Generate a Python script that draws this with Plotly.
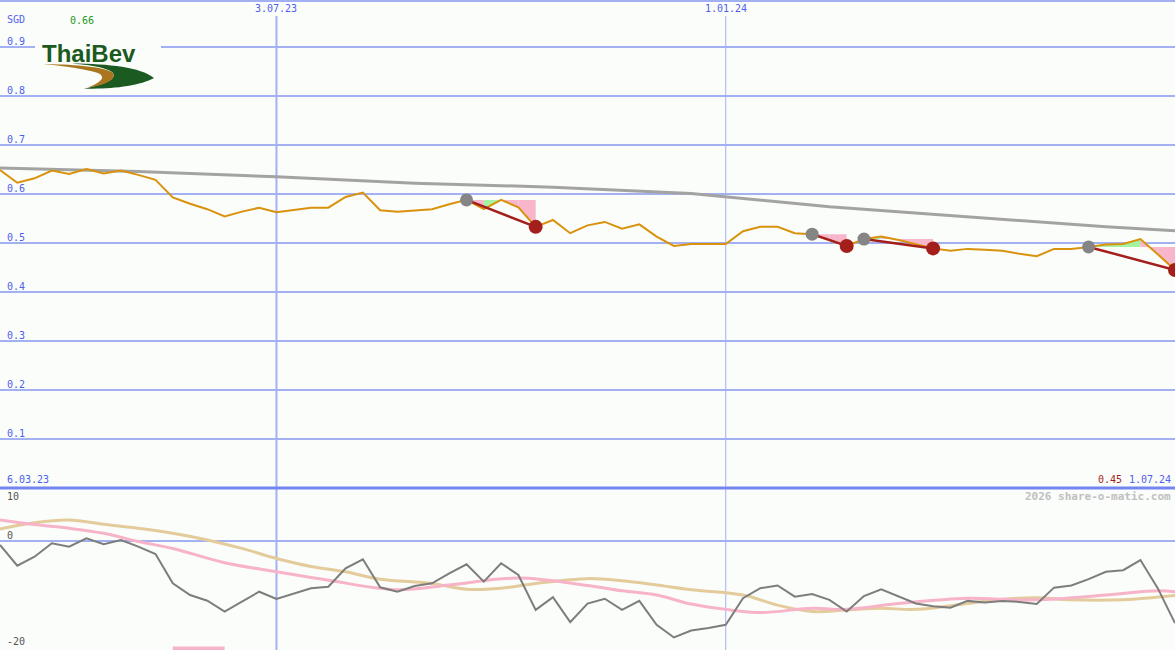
import pandas as pd
import plotly.graph_objects as go

# ---------------- data ----------------
start_date = "2023-03-13"
n_weeks = 69
dates = pd.date_range(start_date, periods=n_weeks, freq="7D")

price = [0.649, 0.623, 0.632, 0.648, 0.641, 0.651, 0.642, 0.648, 0.639, 0.629,
         0.593, 0.580, 0.569, 0.554, 0.564, 0.572, 0.563, 0.567, 0.572, 0.572,
         0.594, 0.603, 0.567, 0.564, 0.567, 0.569, 0.579, 0.588, 0.569, 0.588,
         0.573, 0.533, 0.547, 0.520, 0.536, 0.543, 0.529, 0.538, 0.513, 0.494,
         0.498, 0.498, 0.498, 0.524, 0.533, 0.533, 0.520, 0.518, 0.506, 0.494,
         0.508, 0.513, 0.506, 0.498, 0.489, 0.484, 0.488, 0.486, 0.484, 0.478,
         0.473, 0.488, 0.488, 0.492, 0.497, 0.498, 0.508, 0.477, 0.445]

ma_weeks = [0, 8, 16, 24, 32, 40, 48, 56, 64, 68]
ma_vals = [0.653, 0.646, 0.635, 0.622, 0.614, 0.601, 0.574, 0.553, 0.533, 0.525]

trade_entry = [27, 47, 50, 63]
trade_exit = [31, 49, 54, 68]

momentum = [-0.75, -4.65, -2.96, -0.43, -1.07, 0.51, -0.62, 0.19, -1.07, -2.45,
            -7.99, -10.2, -11.26, -13.34, -11.45, -9.57, -10.94, -9.87, -8.92, -8.62,
            -5.15, -3.45, -8.74, -9.57, -8.49, -7.99, -6.1, -4.4, -7.67, -4.2,
            -6.42, -13.0, -10.6, -15.3, -11.8, -10.9, -13.0, -11.3, -15.8, -18.2,
            -16.9, -16.4, -15.8, -10.8, -8.9, -8.4, -10.5, -10.0, -11.1, -13.3,
            -10.4, -9.1, -10.5, -11.8, -12.3, -12.6, -11.3, -11.6, -11.3, -11.5,
            -11.9, -8.8, -8.4, -7.2, -5.8, -5.5, -3.6, -8.9, -15.5]

pink_weeks = [0, 2, 4, 6, 8, 10, 13, 16, 19, 23, 26, 30, 34, 36, 38, 40, 42, 44,
              47, 49, 52, 56, 58, 60, 64, 67, 68]
pink_vals = [3.96, 3.1, 2.4, 1.45, -0.1, -1.4, -4.1, -5.8, -7.4, -9.2, -8.3, -7.0,
             -8.4, -9.4, -10.2, -11.9, -12.9, -13.5, -12.7, -12.9, -11.8, -10.8,
             -11.0, -11.1, -10.2, -9.4, -9.6]

tan_weeks = [0, 2, 4, 6, 8, 10, 12, 14, 16, 18, 20, 22, 25, 27, 29, 31, 34, 36, 38,
             40, 43, 45, 47, 49, 51, 53, 56, 58, 60, 62, 65, 68]
tan_vals = [2.26, 3.45, 3.96, 3.14, 2.4, 1.45, 0.19, -1.4, -3.3, -4.8, -5.8, -7.2,
            -8.0, -9.1, -8.9, -8.0, -7.1, -7.5, -8.3, -9.2, -10.2, -12.1, -13.3,
            -13.0, -12.7, -12.9, -11.8, -11.0, -10.7, -11.1, -11.1, -10.3]

bar_weeks = [10, 13]
bar_level = -20.3

price_ticks = [0.1, 0.2, 0.3, 0.4, 0.5, 0.6, 0.7, 0.8, 0.9]
price_tick_labels = ["0.1", "0.2", "0.3", "0.4", "0.5", "0.6", "0.7", "0.8", "0.9"]
osc_ticks = [10, 0, -20]
osc_tick_labels = ["10", "0", "-20"]
date_ticks = ["2023-07-03", "2024-01-01"]
date_tick_labels = ["3.07.23", "1.01.24"]
start_label = "6.03.23"
end_label = "1.07.24"
currency = "SGD"
high_label = "0.66"
last_label = "0.45"
credit = "2026 share-o-matic.com"

# ---------------- style ----------------
W, H = 1175, 650
BG = "#fbfdfa"
GRID = "#a3b1f2"
BLUE_TXT = "#4f5fef"
FONT = "DejaVu Sans Mono"
split = 162 / H  # lower panel height fraction

fig = go.Figure()

# trade fills (between entry level and price)
for e, x in zip(trade_entry, trade_exit):
    lvl = price[e]
    for k in range(e, x):
        col = "#a4f3a0" if price[k + 1] > price[k] else "#f8b6ca"
        fig.add_trace(go.Scatter(
            x=[dates[k], dates[k], dates[k + 1], dates[k + 1]],
            y=[lvl, price[k], price[k + 1], lvl],
            fill="toself", fillcolor=col, mode="none",
            hoverinfo="skip", showlegend=False, xaxis="x", yaxis="y"))

# long moving average
fig.add_trace(go.Scatter(x=[dates[i] for i in ma_weeks], y=ma_vals, mode="lines",
                         line=dict(color="#a3a3a3", width=3), showlegend=False,
                         xaxis="x", yaxis="y"))
# price
fig.add_trace(go.Scatter(x=dates, y=price, mode="lines",
                         line=dict(color="#d8920c", width=2), showlegend=False,
                         xaxis="x", yaxis="y"))
# trade lines
for e, x in zip(trade_entry, trade_exit):
    fig.add_trace(go.Scatter(x=[dates[e], dates[x]], y=[price[e], price[x]], mode="lines",
                             line=dict(color="#a41f1c", width=2.5), showlegend=False,
                             xaxis="x", yaxis="y"))
fig.add_trace(go.Scatter(x=[dates[i] for i in trade_entry], y=[price[i] for i in trade_entry],
                         mode="markers", marker=dict(color="#858585", size=13),
                         showlegend=False, xaxis="x", yaxis="y"))
fig.add_trace(go.Scatter(x=[dates[i] for i in trade_exit], y=[price[i] for i in trade_exit],
                         mode="markers", marker=dict(color="#a41f1c", size=14),
                         showlegend=False, xaxis="x", yaxis="y"))

# lower panel
fig.add_trace(go.Scatter(x=[dates[i] for i in tan_weeks], y=tan_vals, mode="lines",
                         line=dict(color="#e3cb9b", width=3, shape="spline"), showlegend=False,
                         xaxis="x2", yaxis="y2"))
fig.add_trace(go.Scatter(x=[dates[i] for i in pink_weeks], y=pink_vals, mode="lines",
                         line=dict(color="#f7b3c8", width=3, shape="spline"), showlegend=False,
                         xaxis="x2", yaxis="y2"))
fig.add_trace(go.Scatter(x=dates, y=momentum, mode="lines",
                         line=dict(color="#7d7d7d", width=2), showlegend=False,
                         xaxis="x2", yaxis="y2"))
fig.add_trace(go.Scatter(x=[dates[i] for i in bar_weeks], y=[bar_level, bar_level], mode="lines",
                         line=dict(color="#f7b3c8", width=4), showlegend=False,
                         xaxis="x2", yaxis="y2"))

xr = [dates[0], dates[-1]]
fig.update_layout(
    width=W, height=H, margin=dict(l=0, r=0, t=0, b=0),
    paper_bgcolor=BG, plot_bgcolor=BG, showlegend=False,
    xaxis=dict(range=xr, domain=[0, 1], anchor="y", showgrid=False, showticklabels=False,
               zeroline=False, ticks=""),
    xaxis2=dict(range=xr, domain=[0, 1], anchor="y2", matches="x", showgrid=False,
                showticklabels=False, zeroline=False, ticks=""),
    yaxis=dict(range=[0, 488 / 490], domain=[split, 1], tickvals=price_ticks,
               showticklabels=False, showgrid=True, gridcolor=GRID, gridwidth=2,
               zeroline=False, ticks=""),
    yaxis2=dict(range=[10 - 162 / 5.3, 10], domain=[0, split], tickvals=[0],
                showticklabels=False, showgrid=True, gridcolor=GRID, gridwidth=2,
                zeroline=False, ticks=""),
)

shapes = []
# vertical date lines
for d, wdt in zip(date_ticks, [2, 1]):
    shapes.append(dict(type="line", xref="x", yref="paper", x0=d, x1=d,
                       y0=0, y1=1 - 16 / H, line=dict(color=GRID, width=wdt), layer="below"))
# top border and separator
shapes.append(dict(type="line", xref="paper", yref="paper", x0=0, x1=1, y0=1 - 1 / H, y1=1 - 1 / H,
                   line=dict(color=GRID, width=2)))
shapes.append(dict(type="line", xref="paper", yref="paper", x0=0, x1=1, y0=split, y1=split,
                   line=dict(color="#7585ef", width=3)))


# logo
def pth(cmds):
    out = []
    for c in cmds:
        if isinstance(c, str):
            out.append(c)
        else:
            out.append(f"{c[0] / W:.5f},{1 - c[1] / H:.5f}")
    return " ".join(out)


shapes.append(dict(type="rect", xref="paper", yref="paper", x0=35 / W, x1=161 / W,
                   y0=1 - 92 / H, y1=1 - 40 / H, fillcolor=BG, line=dict(width=0), layer="above"))
green_path = pth(["M", (72, 63.5), "C", (110, 64), (140, 67), (154, 78),
                  "C", (140, 86), (110, 89.5), (84, 88.5),
                  "C", (108, 84), (118, 78), (112, 72),
                  "C", (106, 68), (95, 65.5), (72, 63.5), "Z"])
gold_path = pth(["M", (43, 64), "C", (70, 64.5), (100, 66), (112, 72),
                 "C", (118, 78), (108, 85), (88, 87.5),
                 "C", (102, 82), (106, 77), (98, 73),
                 "C", (85, 69), (65, 66), (43, 64), "Z"])
shapes.append(dict(type="path", xref="paper", yref="paper", path=green_path,
                   fillcolor="#1b5a20", line=dict(width=0), layer="above"))
shapes.append(dict(type="path", xref="paper", yref="paper", path=gold_path,
                   fillcolor="#a9761f", line=dict(width=0), layer="above"))
fig.update_layout(shapes=shapes)

ann = []


def txt(text, x, y, color, xanchor="left", yanchor="middle", size=10, xref="paper",
        yref="paper", yshift=0, bold=False):
    ann.append(dict(text=f"<b>{text}</b>" if bold else text, x=x, y=y, xref=xref, yref=yref,
                    xanchor=xanchor, yanchor=yanchor, showarrow=False, yshift=yshift,
                    font=dict(family=FONT, size=size, color=color)))


for v, lab in zip(price_ticks, price_tick_labels):
    txt(lab, 5 / W, v, BLUE_TXT, yref="y", yshift=6)
for v, lab in zip(osc_ticks, osc_tick_labels):
    if v == osc_ticks[0]:
        txt(lab, 5 / W, v, "#555555", yref="y2", yshift=-8)
    else:
        txt(lab, 5 / W, v, "#555555", yref="y2", yshift=6)
for d, lab in zip(date_ticks, date_tick_labels):
    txt(lab, d, 1 - 8 / H, BLUE_TXT, xanchor="center", xref="x")
txt(currency, 5 / W, 1 - 19 / H, BLUE_TXT)
txt(high_label, 68 / W, 1 - 20 / H, "#1f9a1f")
txt(start_label, 5 / W, 1 - 479 / H, BLUE_TXT)
txt(end_label, 1173 / W, 1 - 479 / H, BLUE_TXT, xanchor="right")
txt(last_label, 1124 / W, 1 - 479 / H, "#a41f1c", xanchor="right")
txt(credit, 1173 / W, 1 - 496 / H, "#c0c0c0", xanchor="right", size=11, bold=True)
ann.append(dict(text="<b>ThaiBev</b>", x=89 / W, y=1 - 53 / H, xref="paper", yref="paper",
                xanchor="center", yanchor="middle", showarrow=False,
                font=dict(family="Liberation Sans", size=24, color="#1b5a20")))
fig.update_layout(annotations=ann)

fig.write_html("out.html", config={"displayModeBar": False},
               post_script="document.body.style.margin='0';document.body.style.overflow='hidden';")
